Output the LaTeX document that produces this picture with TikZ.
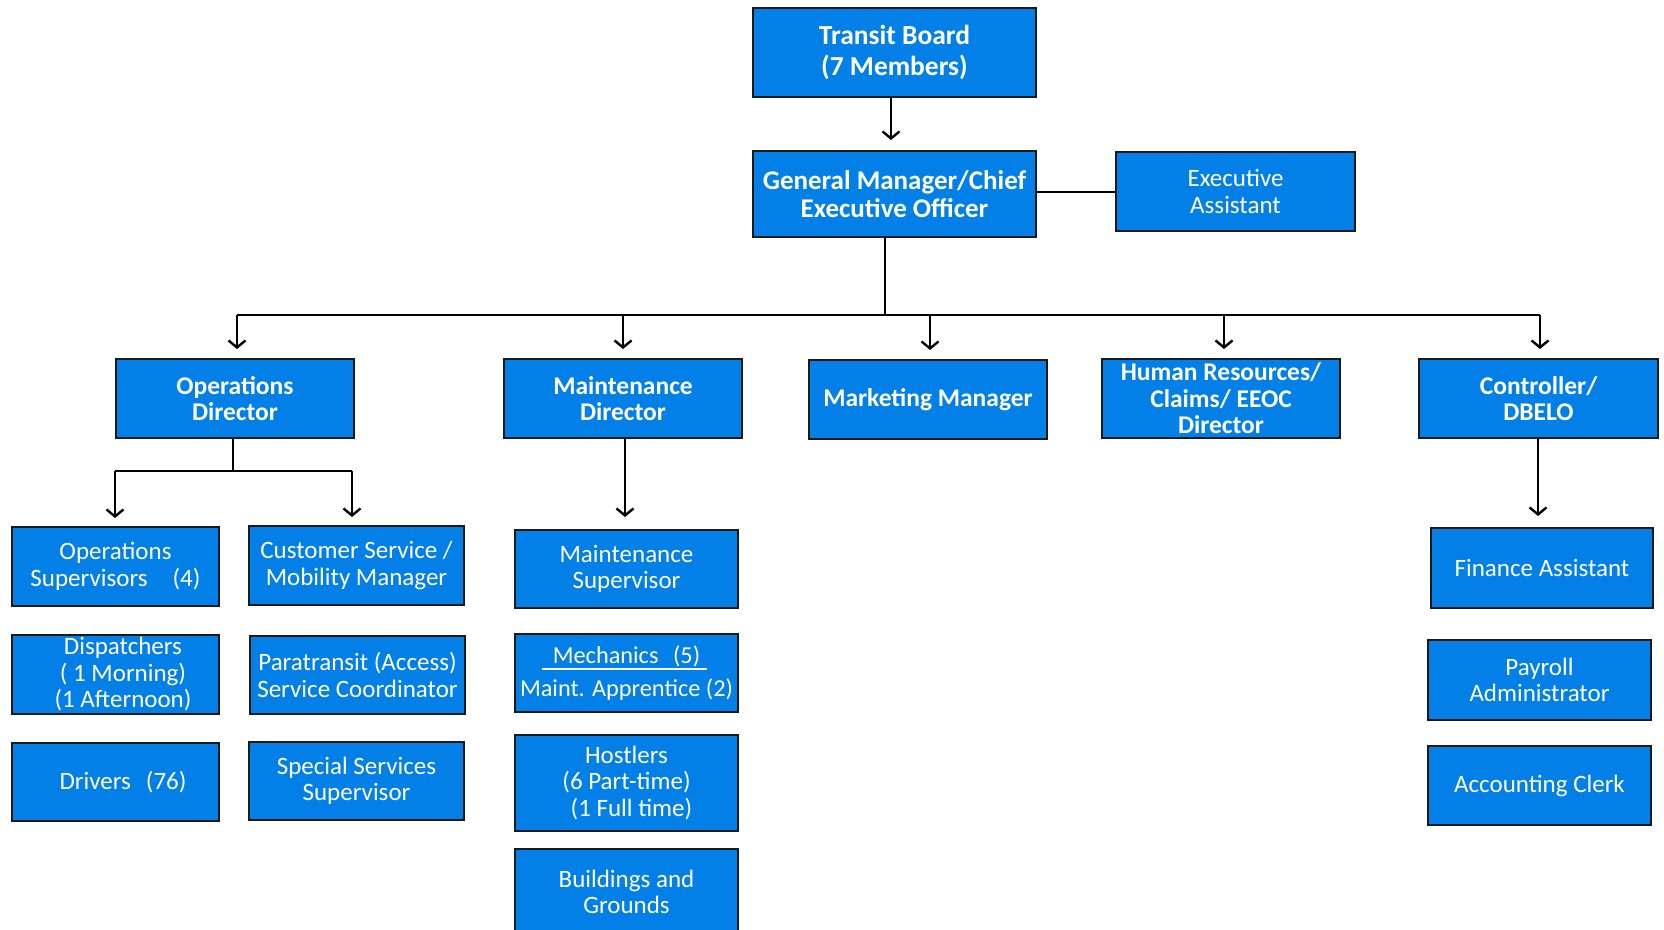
\documentclass[tikz,border=0pt]{standalone}
\usepackage{fontspec}
\setmainfont{Carlito}
\usetikzlibrary{arrows.meta,calc}
\definecolor{boxblue}{RGB}{2,128,232}
\begin{document}
\begin{tikzpicture}[x=1pt,y=-1pt,
  box/.style={draw=black!90, line width=2pt, fill=boxblue, text=white, inner sep=0pt, align=center, font=\fontsize{25}{26.5}\selectfont},
  hbox/.style={box, font=\fontsize{25.5}{26.5}\selectfont\bfseries},
  wh/.style 2 args={minimum width=#1pt, minimum height=#2pt},
  conn/.style={line width=2.6pt, black},
  arr/.style={conn, -{Straight Barb[length=7pt,width=17pt,line width=2.4pt]}},
]
\useasboundingbox (0,0) rectangle (1664,929);
\fill[white] (0,0) rectangle (1664,929);

% top
\node[hbox, wh={283}{89}, font=\fontsize{27.5}{31}\selectfont\bfseries] (tb) at (894.5,52.5) {Transit Board\\(7 Members)};
\node[hbox, wh={283}{86}, font=\fontsize{27}{28.5}\selectfont\bfseries] (gm) at (894.5,194) {General Manager/Chief\\Executive Officer};
\node[box, wh={239}{79}] (ea) at (1235.5,191.5) {Executive\\Assistant};

% directors
\node[hbox, wh={238}{79}] (od) at (235,398.5) {Operations\\Director};
\node[hbox, wh={238}{79}] (md) at (623,398.5) {Maintenance\\Director};
\node[hbox, wh={238}{79}] (mm) at (928,399.5) {Marketing Manager};
\node[hbox, wh={238}{79}] (hr) at (1221,398.5) {Human Resources/\\Claims/ EEOC\\Director};
\node[hbox, wh={239}{79}] (ct) at (1538.5,398.5) {Controller/\\DBELO};

% operations
\node[box, wh={207}{79}] (os) at (115.5,566.5) {Operations\\Supervisors\hspace{1em}(4)};
\node[box, wh={215}{79}] (cs) at (356.5,565.5) {Customer Service /\\Mobility Manager};
\node[box, wh={207}{79}] (dp) at (115.5,674.5) {\hspace{0.6em}Dispatchers\\\hspace{0.6em}( 1 Morning)\\\hspace{0.6em}(1 Afternoon)};
\node[box, wh={215}{78}] (pt) at (357.5,675) {Paratransit (Access)\\Service Coordinator};
\node[box, wh={207}{78}] (dr) at (115.5,782) {\hspace{0.6em}Drivers\hspace{0.6em}(76)};
\node[box, wh={215}{78}] (ss) at (356.5,781) {Special Services\\Supervisor};

% maintenance
\node[box, wh={223}{78}] (ms) at (626.5,569) {Maintenance\\Supervisor};
\node[box, wh={223}{78}, font=\fontsize{24.3}{26.5}\selectfont] (me) at (626.5,673) {Mechanics\hspace{0.6em}(5)\\[7pt]Maint. Apprentice (2)};
\node[box, wh={223}{96}] (ho) at (626.5,783) {Hostlers\\(6 Part-time)\\\hspace{0.4em}(1 Full time)};
\node[box, wh={223}{86}] (bg) at (626.5,892) {Buildings and\\Grounds};
\draw[white, line width=2pt] ($(me.center)+(-85,-4)$) -- ($(me.center)+(80,-4)$);

% finance
\node[box, wh={222}{80}] (fa) at (1542,568) {Finance Assistant};
\node[box, wh={223}{80}] (pa) at (1539.5,680) {Payroll\\Administrator};
\node[box, wh={223}{79}] (ac) at (1539.5,785.5) {Accounting Clerk};

% connectors
\draw[arr, shorten >=10pt] (tb.south -| 891,0) -- (gm.north -| 891,0);
\draw[conn] (gm.east |- 0,192) -- (ea.west |- 0,192);

\coordinate (busc) at (885,315);
\draw[conn] (gm.south -| busc) -- (busc);
\draw[conn] (237,315) -- (1540,315);
\draw[arr, shorten >=9pt] (237,315) -- (od.north -| 237,0);
\draw[arr, shorten >=9pt] (md.north |- busc) -- (md.north);
\draw[arr, shorten >=9pt] (930,315) -- (mm.north -| 930,0);
\draw[arr, shorten >=9pt] (1224,315) -- (hr.north -| 1224,0);
\draw[arr, shorten >=9pt] (1540,315) -- (ct.north -| 1540,0);

\coordinate (odb) at (233,471);
\draw[conn] (od.south -| odb) -- (odb);
\draw[conn] (115,471) -- (352,471);
\draw[arr, shorten >=8pt] (115,471) -- (os.north -| 115,0);
\draw[arr, shorten >=8pt] (352,471) -- (cs.north -| 352,0);

\draw[arr, shorten >=12pt] (md.south -| 625,0) -- (ms.north -| 625,0);
\draw[arr, shorten >=11pt] (ct.south -| 1538,0) -- (fa.north -| 1538,0);
\end{tikzpicture}
\end{document}
